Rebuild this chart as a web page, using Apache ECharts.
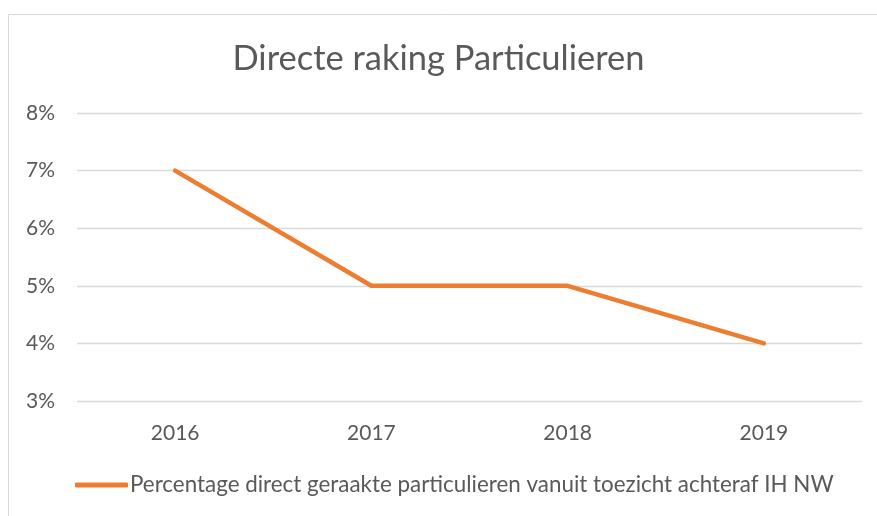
<!DOCTYPE html>
<html><head><meta charset="utf-8">
<script src="https://cdn.jsdelivr.net/npm/echarts@6/dist/echarts.min.js"></script>
<style>html,body{margin:0;padding:0;background:#fff}#c{width:877px;height:516px}</style>
</head><body><div id="c"></div>
<script>
const categories = ['2016', '2017', '2018', '2019'];
const values = [7, 5, 5, 4];
const seriesName = 'Percentage direct geraakte particulieren vanuit toezicht achteraf IH NW';
const titleText = 'Directe raking Particulieren';
const FONT = 'Lato';
const chart = echarts.init(document.getElementById('c'), null, {renderer: 'canvas'});
chart.setOption({
  animation: false,
  backgroundColor: '#fff',
  textStyle: {fontFamily: FONT},
  graphic: [{type: 'rect', shape: {x: 8.5, y: 14.5, width: 900, height: 600}, style: {fill: null, stroke: '#d9d9d9', lineWidth: 1}, silent: true}],
  title: {text: titleText, left: 'center', top: 36, textStyle: {fontFamily: FONT, fontSize: 34.5, fontWeight: 'normal', color: '#595959'}},
  grid: {left: 77, right: 15, top: 113, bottom: 115, containLabel: false},
  xAxis: {type: 'category', data: categories, boundaryGap: true,
    axisLine: {show: false}, axisTick: {show: false},
    axisLabel: {fontFamily: FONT, fontSize: 21, color: '#595959', margin: 22}},
  yAxis: {type: 'value', min: 3, max: 8, interval: 1,
    axisLine: {show: false}, axisTick: {show: false},
    axisLabel: {formatter: v => v + '%', fontFamily: FONT, fontSize: 21, color: '#595959', margin: 22},
    splitLine: {lineStyle: {color: '#d9d9d9', width: 1.3}}},
  legend: {bottom: 15, left: 70, itemWidth: 53, itemHeight: 5, icon: 'roundRect', itemGap: 5,
    textStyle: {fontFamily: FONT, fontSize: 22.4, color: '#595959', padding: [0, 0, 0, -3]},
    data: [{name: seriesName}]},
  series: [{name: seriesName, type: 'line', data: values, showSymbol: false, symbol: 'none',
    lineStyle: {color: '#ED7D31', width: 4.5, cap: 'round', join: 'round'}, itemStyle: {color: '#ED7D31'}}]
});
</script></body></html>
